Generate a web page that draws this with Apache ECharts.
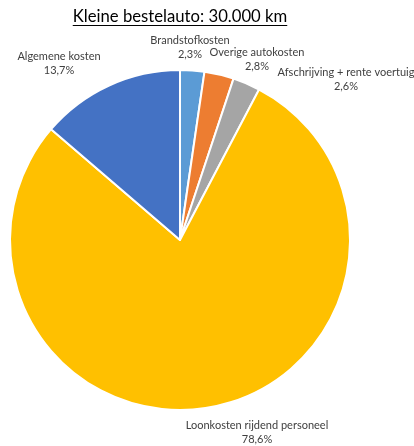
<!DOCTYPE html>
<html>
<head>
<meta charset="utf-8">
<script src="https://cdn.jsdelivr.net/npm/echarts@6/dist/echarts.min.js"></script>
<style>
  html, body { margin: 0; padding: 0; background: #fff; }
  #chart { width: 414px; height: 446px; }
</style>
</head>
<body>
<div id="chart"></div>
<script>
// Cost breakdown, percent of total
const categories = [
  'Brandstofkosten',
  'Overige autokosten',
  'Afschrijving + rente voertuig',
  'Loonkosten rijdend personeel',
  'Algemene kosten'
];
const values = [2.3, 2.8, 2.6, 78.6, 13.7];
const colors = ['#5B9BD5', '#ED7D31', '#A5A5A5', '#FFC000', '#4472C4'];

// Label anchor points (centre of each two-line label)
const labelAnchors = [[190, 47], [257, 59], [346, 79], [257, 432], [59, 63]];

const titleText = 'Kleine bestelauto: 30.000 km';
const titleFont = '16.7px Lato';
const titleX = 180, titleY = 17;

const chart = echarts.init(document.getElementById('chart'), null, { renderer: 'canvas' });

const fmt = v => v.toFixed(1).replace('.', ',') + '%';

function measure(text, font) {
  const c = document.createElement('canvas').getContext('2d');
  c.font = font;
  return c.measureText(text).width;
}

function render() {
  const tw = measure(titleText, titleFont);
  chart.setOption({
    animation: false,
    graphic: [
      {
        type: 'text',
        x: titleX,
        y: titleY,
        style: {
          text: titleText,
          font: titleFont,
          fill: '#000',
          align: 'center',
          verticalAlign: 'middle'
        }
      },
      {
        type: 'line',
        shape: { x1: titleX - tw / 2, y1: 25.5, x2: titleX + tw / 2, y2: 25.5 },
        style: { stroke: '#000', lineWidth: 1 }
      }
    ],
    series: [{
      type: 'pie',
      center: [180, 240],
      radius: [0, 170],
      startAngle: 90,
      clockwise: true,
      data: categories.map((name, i) => ({
        name,
        value: values[i],
        itemStyle: { color: colors[i] }
      })),
      itemStyle: { borderColor: '#fff', borderWidth: 2 },
      label: {
        show: true,
        position: 'outside',
        formatter: p => p.name + '\n' + fmt(p.value),
        fontFamily: 'Lato',
        fontSize: 11,
        lineHeight: 14,
        color: '#404040',
        align: 'center',
        overflow: 'none'
      },
      labelLine: { show: false },
      labelLayout: p => ({
        x: labelAnchors[p.dataIndex][0],
        y: labelAnchors[p.dataIndex][1],
        align: 'center',
        verticalAlign: 'middle',
        hideOverlap: false
      }),
      emphasis: { disabled: true }
    }]
  });
}

if (document.fonts && document.fonts.load) {
  document.fonts.load(titleFont).then(render, render);
} else {
  render();
}
render();
</script>
</body>
</html>
